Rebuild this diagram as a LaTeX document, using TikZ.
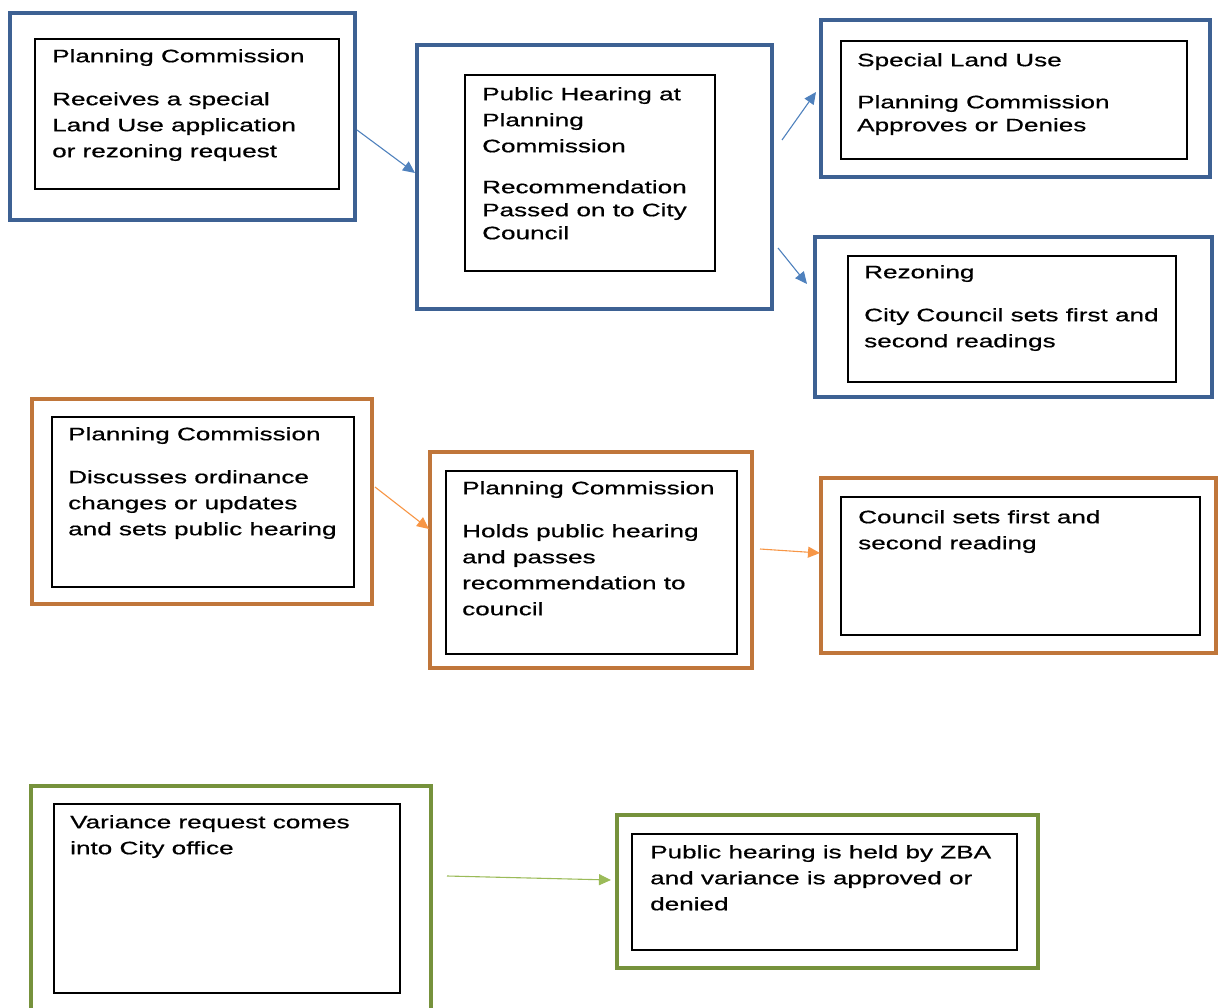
\documentclass[tikz,border=0pt]{standalone}
\usepackage{fontspec}
\setmainfont[FakeStretch=1.45,FakeBold=0.6]{Liberation Sans}
\usetikzlibrary{arrows.meta}
\definecolor{bluebox}{HTML}{3D6193}
\definecolor{orangebox}{HTML}{C0763A}
\definecolor{greenbox}{HTML}{76923C}
\definecolor{bluearr}{HTML}{4F81BD}
\definecolor{orangearr}{HTML}{F79646}
\definecolor{greenarr}{HTML}{9BBB59}
\tikzset{
  outerbox/.style={draw=#1, line width=4.5pt, anchor=north west, inner sep=0pt, outer sep=0pt},
  innerbox/.style={draw=black, line width=1.4pt, anchor=north west, inner sep=0pt, outer sep=0pt},
  txt/.style={anchor=north west, inner sep=0pt, align=left, font=\fontsize{18}{26}\selectfont},
  conn/.style={draw=#1, line width=1.1pt, -{Triangle[length=12pt,width=11pt]}}
}
\begin{document}
\begin{tikzpicture}[x=1pt,y=-1pt]
\useasboundingbox (0,0) rectangle (1218,1008);
\clip (0,0) rectangle (1218,1008);
% Blue group
\node (A) [outerbox=bluebox, minimum width=345, minimum height=207] at (10,13) {};
\node (Ai) [innerbox, minimum width=304, minimum height=150] at (35,39) {};
\node (At) [txt] at (52,49) {Planning Commission\\[17pt]Receives a special\\Land Use application\\or rezoning request};

\node (B) [outerbox=bluebox, minimum width=355, minimum height=264] at (417,45) {};
\node (Bi) [innerbox, minimum width=250, minimum height=196] at (465,75) {};
\node (Bt) [txt] at (482,87) {Public Hearing at\\Planning\\Commission\\[15pt]Recommendation\\[-3pt]Passed on to City\\[-3pt]Council};

\node (C) [outerbox=bluebox, minimum width=389, minimum height=157] at (821,20) {};
\node (Ci) [innerbox, minimum width=346, minimum height=118] at (841,41) {};
\node (Ct) [txt] at (857,53) {Special Land Use\\[16pt]Planning Commission\\[-3pt]Approves or Denies};

\node (D) [outerbox=bluebox, minimum width=397, minimum height=160] at (815,237) {};
\node (Di) [innerbox, minimum width=328, minimum height=126] at (848,256) {};
\node (Dt) [txt] at (864,265) {Rezoning\\[17pt]City Council sets first and\\second readings};

% Orange group
\node (E) [outerbox=orangebox, minimum width=340, minimum height=205] at (32,399) {};
\node (Ei) [innerbox, minimum width=302, minimum height=170] at (52,417) {};
\node (Et) [txt] at (68,427) {Planning Commission\\[17pt]Discusses ordinance\\changes or updates\\and sets public hearing};

\node (F) [outerbox=orangebox, minimum width=322, minimum height=216] at (430,452) {};
\node (Fi) [innerbox, minimum width=291, minimum height=183] at (446,471) {};
\node (Ft) [txt] at (462,481) {Planning Commission\\[17pt]Holds public hearing\\and passes\\recommendation to\\council};

\node (G) [outerbox=orangebox, minimum width=395, minimum height=175] at (821,478) {};
\node (Gi) [innerbox, minimum width=359, minimum height=138] at (841,497) {};
\node (Gt) [txt] at (858,510) {Council sets first and\\second reading};

% Green group
\node (H) [outerbox=greenbox, minimum width=400, minimum height=240] at (31,786) {};
\node (Hi) [innerbox, minimum width=346, minimum height=189] at (54,804) {};
\node (Ht) [txt] at (70,815) {Variance request comes\\into City office};

\node (I) [outerbox=greenbox, minimum width=421, minimum height=153] at (617,815) {};
\node (Ii) [innerbox, minimum width=385, minimum height=116] at (632,834) {};
\node (It) [txt] at (650,845) {Public hearing is held by ZBA\\and variance is approved or\\denied};

% Connector end points
\coordinate (ab1) at (357,130); \coordinate (ab2) at (415,173);
\coordinate (bc1) at (782,140); \coordinate (bc2) at (816,92);
\coordinate (bd1) at (778,248); \coordinate (bd2) at (807,284);
\coordinate (ef1) at (375,487); \coordinate (ef2) at (429,529);
\coordinate (fg1) at (760,549); \coordinate (fg2) at (820,553);
\coordinate (hi1) at (447,876); \coordinate (hi2) at (611,880);

\draw[conn=bluearr] (ab1) -- (ab2);
\draw[conn=bluearr] (bc1) -- (bc2);
\draw[conn=bluearr] (bd1) -- (bd2);
\draw[conn=orangearr] (ef1) -- (ef2);
\draw[conn=orangearr] (fg1) -- (fg2);
\draw[conn=greenarr] (hi1) -- (hi2);
\end{tikzpicture}
\end{document}
